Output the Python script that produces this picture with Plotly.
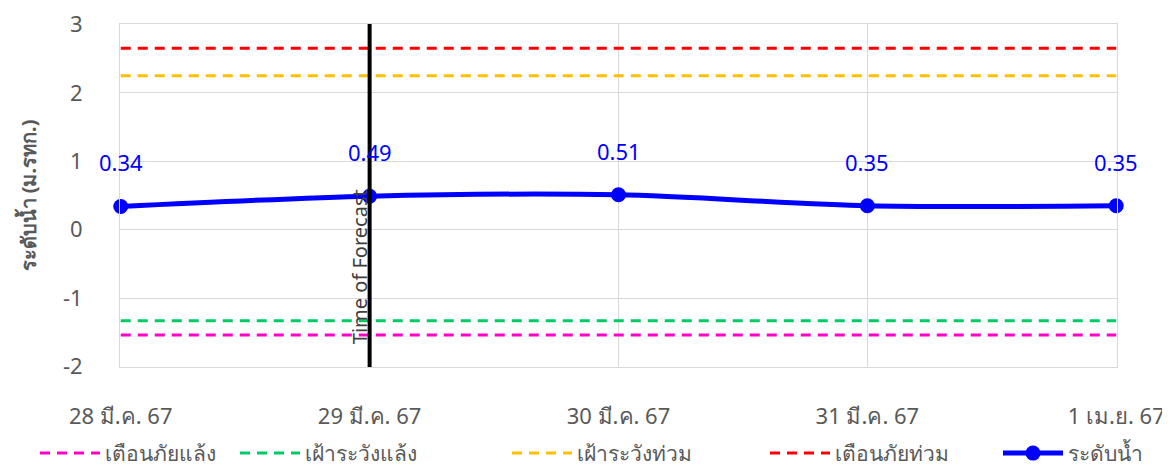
import plotly.graph_objects as go

# ---- Data ---- #
dates = ['28 มี.ค. 67', '29 มี.ค. 67', '30 มี.ค. 67', '31 มี.ค. 67', '1 เม.ย. 67']
water_level = [0.34, 0.49, 0.51, 0.35, 0.35]
forecast_date = '29 มี.ค. 67'

drought_warning = [-1.54] * 5   # เตือนภัยแล้ง
drought_watch = [-1.33] * 5     # เฝ้าระวังแล้ง
flood_watch = [2.25] * 5        # เฝ้าระวังท่วม
flood_warning = [2.65] * 5      # เตือนภัยท่วม

y_ticks = [-2, -1, 0, 1, 2, 3]
y_tick_text = ['-2', '-1', '0', '1', '2', '3']

FONT = 'Noto Sans, Tahoma, sans-serif'
GREY = '#595959'
GRID = '#D9D9D9'

# ---- Figure ---- #
fig = go.Figure()

thresholds = [
    ('เตือนภัยแล้ง', drought_warning, '#FF00CC', 'legend'),
    ('เฝ้าระวังแล้ง', drought_watch, '#00CC66', 'legend2'),
    ('เฝ้าระวังท่วม', flood_watch, '#FFC000', 'legend3'),
    ('เตือนภัยท่วม', flood_warning, '#FF0000', 'legend4'),
]
for name, vals, color, leg in thresholds:
    fig.add_trace(go.Scatter(
        x=dates, y=vals, name=name, mode='lines', legend=leg,
        line=dict(color=color, width=3, dash='10px,7px'),
        hoverinfo='skip'))

fig.add_trace(go.Scatter(
    x=dates, y=water_level, name='ระดับน้ำ', mode='lines+markers', legend='legend5',
    line=dict(color='#0000FF', width=5, shape='spline', smoothing=0.8),
    marker=dict(size=15, color='#0000FF'),
    cliponaxis=False))

# data labels above the points
for d, v in zip(dates, water_level):
    fig.add_annotation(x=d, y=v, text=f'{v:.2f}', showarrow=False,
                       yshift=44, font=dict(family=FONT, size=22, color='#0000FF'))

# forecast marker line
fig.add_shape(type='line', xref='x', yref='paper', x0=forecast_date, x1=forecast_date,
              y0=0, y1=1, line=dict(color='black', width=4))
fig.add_annotation(x=forecast_date, y=-1.70, text='Time of Forecast', textangle=-90,
                   showarrow=False, xanchor='center', yanchor='bottom', xshift=-10,
                   font=dict(family=FONT, size=20, color='#404040'))

# ---- Layout ---- #
# page body has an 8px margin, so the figure is drawn 8px smaller and shifted
def lx(px):
    return (px - 120) / 997

legend_style = dict(orientation='h', y=-0.252, yanchor='middle', xanchor='left',
                    itemwidth=60,
                    bgcolor='rgba(0,0,0,0)', font=dict(family=FONT, size=21, color=GREY))

fig.update_layout(
    width=1162, height=459,
    margin=dict(l=112, r=53, t=16, b=100, autoexpand=False),
    plot_bgcolor='white', paper_bgcolor='white',
    font=dict(family=FONT, color=GREY),
    showlegend=True,
    legend=dict(x=lx(35), **legend_style),
    legend2=dict(x=lx(235), **legend_style),
    legend3=dict(x=lx(507), **legend_style),
    legend4=dict(x=lx(765), **legend_style),
    legend5=dict(x=lx(998), **legend_style),
    xaxis=dict(range=[-0.003, 4.003], showgrid=True, gridcolor=GRID, gridwidth=1,
               showline=True, linecolor=GRID, linewidth=1, mirror=True,
               ticklabeloverflow='allow',
               tickfont=dict(family=FONT, size=22, color=GREY), ticklabelstandoff=30,
               zeroline=False, automargin=False),
    yaxis=dict(range=[-2.006, 3.006], tickvals=y_ticks, ticktext=y_tick_text,
               showgrid=True, gridcolor=GRID, gridwidth=1,
               showline=True, linecolor=GRID, linewidth=1, mirror=True,
               ticklabeloverflow='allow',
               zeroline=False, automargin=False,
               tickfont=dict(family=FONT, size=22, color=GREY), ticklabelstandoff=32,
               title=dict(text='<b>ระดับน้ำ (ม.รทก.)</b>', standoff=20,
                          font=dict(family=FONT, size=20, color=GREY))),
)

fig.write_html('out.html')
